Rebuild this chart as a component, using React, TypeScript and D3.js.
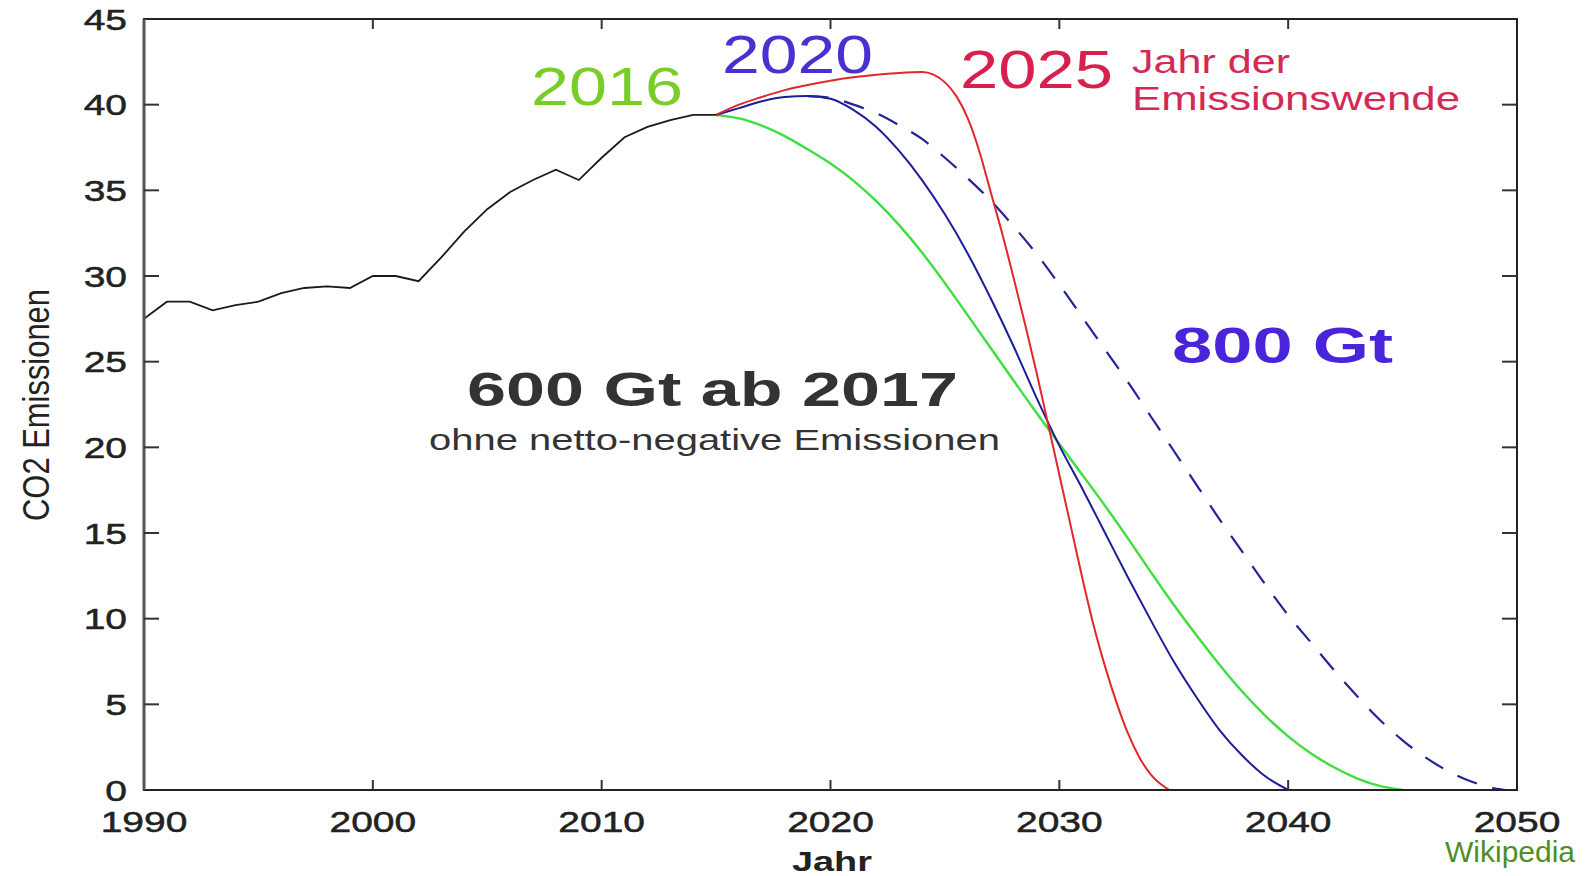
import React from 'react';
import * as d3 from 'd3';

// historical CO2 emissions (Gt/year)
const histYears = d3.range(1990, 2016);
const histValues = [
  27.5, 28.5, 28.5, 28.0, 28.3, 28.5, 29.0, 29.3, 29.4, 29.3,
  30.0, 30.0, 29.7, 31.1, 32.6, 33.9, 34.9, 35.6, 36.2, 35.6,
  36.9, 38.1, 38.7, 39.1, 39.4, 39.4,
];

// scenario: turn in 2016 (green)
const green2016Years = d3.range(2015, 2046);
const green2016Values = [
  39.4, 39.25, 38.8, 38.2, 37.4, 36.6, 35.6, 34.4, 33.0, 31.4,
  29.6, 27.7, 25.8, 23.9, 22.0, 20.2, 18.4, 16.6, 14.7, 12.7,
  10.8, 9.0, 7.3, 5.7, 4.3, 3.1, 2.1, 1.3, 0.65, 0.2, 0,
];

// scenario: turn in 2020 (blue, 600 Gt)
const blue2020Years = d3.range(2015, 2041);
const blue2020Values = [
  39.4, 39.8, 40.2, 40.45, 40.5, 40.35, 39.7, 38.7, 37.3, 35.6,
  33.6, 31.3, 28.7, 25.9, 22.9, 20.1, 17.6, 15.0, 12.4, 9.9,
  7.5, 5.4, 3.5, 2.0, 0.8, 0,
];

// scenario: turn in 2020 with 800 Gt budget (blue dashed)
const blue800Years = [...d3.range(2019, 2050), 2049.5];
const blue800Values = [
  40.5, 40.4, 40.0, 39.5, 38.8, 38.0, 36.9, 35.7, 34.4, 32.9,
  31.3, 29.5, 27.6, 25.7, 23.8, 21.8, 19.8, 17.8, 15.8, 13.9,
  12.0, 10.2, 8.6, 7.0, 5.5, 4.1, 2.9, 1.9, 1.1, 0.5, 0.1, 0,
];

// scenario: turn in 2025 (red)
const red2025Years = [
  2015, 2016, 2017, 2018, 2019, 2020, 2021, 2022, 2023, 2024, 2024.5,
  2025, 2025.5, 2026, 2026.5, 2027, 2027.5, 2028, 2028.5, 2029, 2029.5,
  2030, 2030.5, 2031, 2031.5, 2032, 2032.5, 2033, 2033.5, 2034, 2034.8,
];
const red2025Values = [
  39.4, 40.0, 40.45, 40.85, 41.15, 41.4, 41.6, 41.75, 41.85, 41.9, 41.75,
  41.3, 40.5, 39.2, 37.3, 34.9, 32.5, 29.9, 27.2, 24.4, 21.4,
  18.4, 15.4, 12.4, 9.6, 7.2, 5.1, 3.3, 1.9, 0.9, 0,
];

const xTicks = [1990, 2000, 2010, 2020, 2030, 2040, 2050];
const yTicks = [0, 5, 10, 15, 20, 25, 30, 35, 40, 45];

const W = 1587;
const H = 876;
const FONT = '"Liberation Sans", Arial, Helvetica, sans-serif';
const STRETCH = 1.3;

type LabelProps = {
  x: number;
  y: number;
  text: string;
  size: number;
  fill: string;
  weight?: string | number;
  anchor?: 'start' | 'middle' | 'end';
  length?: number;
  dy?: string;
  halo?: number;
};

// text drawn wider than normal, like the stretched original
const Label: React.FC<LabelProps> = ({ x, y, text, size, fill, weight = 'normal', anchor = 'start', length, dy, halo }) => (
  <text
    transform={length ? `translate(${x},${y})` : `translate(${x},${y}) scale(${STRETCH},1)`}
    fontSize={size}
    fontWeight={weight}
    fill={fill}
    stroke={halo ? fill : undefined}
    strokeWidth={halo}
    textAnchor={anchor}
    fontFamily={FONT}
    dy={dy}
    textLength={length}
    lengthAdjust={length ? 'spacingAndGlyphs' : undefined}
  >
    {text}
  </text>
);

export default function App() {
  const x = d3.scaleLinear().domain([1990, 2050]).range([144, 1517]);
  const y = d3.scaleLinear().domain([0, 45]).range([790, 19]);

  const path = (years: number[], values: number[], curve: d3.CurveFactory) =>
    d3.line<number>()
      .x((_, i) => x(years[i]))
      .y(d => y(d))
      .curve(curve)(values) || '';

  const [x0, x1] = x.range();
  const [y0, y1] = y.range();

  return (
    <svg
      width={W}
      height={H}
      style={{ position: 'absolute', left: 0, top: 0, background: '#fff' }}
    >
      <rect x={0} y={0} width={W} height={H} fill="#fff" />

      {/* scenario curves */}
      <path d={path(blue800Years, blue800Values, d3.curveMonotoneX)} fill="none" stroke="#24249a" strokeWidth={2.2} strokeDasharray="21,16" />
      <path d={path(green2016Years, green2016Values, d3.curveBasis)} fill="none" stroke="#3ede3e" strokeWidth={2.4} />
      <path d={path(blue2020Years, blue2020Values, d3.curveMonotoneX)} fill="none" stroke="#1c1c9c" strokeWidth={2} />
      <path d={path(red2025Years, red2025Values, d3.curveMonotoneX)} fill="none" stroke="#e3262a" strokeWidth={2} />
      <path d={path(histYears, histValues, d3.curveLinear)} fill="none" stroke="#1a1a1a" strokeWidth={1.8} />

      {/* frame */}
      <rect x={x0} y={y1} width={x1 - x0} height={y0 - y1} fill="none" stroke="#222" strokeWidth={2} />
      <line x1={x0} x2={x0} y1={y1} y2={y0} stroke="#555" strokeWidth={3} />

      {/* y ticks, left and right */}
      {yTicks.map(t => (
        <g key={`y${t}`}>
          {t > 0 && t < 45 && (
            <>
              <line x1={x0} x2={x0 + 15} y1={y(t)} y2={y(t)} stroke="#333" strokeWidth={2} />
              <line x1={x1} x2={x1 - 15} y1={y(t)} y2={y(t)} stroke="#333" strokeWidth={2} />
            </>
          )}
          <Label x={127} y={y(t)} text={String(t)} size={30} fill="#222" anchor="end" dy="0.36em" halo={0.5} />
        </g>
      ))}

      {/* x ticks, bottom and top */}
      {xTicks.map(t => (
        <g key={`x${t}`}>
          {t > 1990 && t < 2050 && (
            <>
              <line x1={x(t)} x2={x(t)} y1={y0} y2={y0 - 10} stroke="#333" strokeWidth={2} />
              <line x1={x(t)} x2={x(t)} y1={y1} y2={y1 + 10} stroke="#333" strokeWidth={2} />
            </>
          )}
          <Label x={x(t)} y={832} text={String(t)} size={30} fill="#222" anchor="middle" halo={0.5} />
        </g>
      ))}

      {/* axis titles */}
      <text
        transform={`translate(36,405) scale(${STRETCH},1) rotate(-90)`}
        fontSize={28}
        fill="#222"
        textAnchor="middle"
        dy="0.36em"
        fontFamily={FONT}
        textLength={232}
        lengthAdjust="spacingAndGlyphs"
      >
        CO2 Emissionen
      </text>
      <Label x={832} y={871} text="Jahr" size={27} weight="bold" fill="#222" anchor="middle" length={80} />

      {/* annotations */}
      <Label x={531} y={105} text="2016" size={54} fill="#7acc28" length={152} />
      <Label x={722} y={73} text="2020" size={54} fill="#4a30d0" length={151} />
      <Label x={960} y={88} text="2025" size={53} fill="#d8204e" length={153} />
      <Label x={1132} y={73} text="Jahr der" size={33} fill="#d22a55" length={158} />
      <Label x={1132} y={110} text="Emissionswende" size={33} fill="#d22a55" length={328} />
      <Label x={1172} y={363} text="800 Gt" size={50} weight="bold" fill="#4a24d8" length={221} />
      <Label x={467} y={406} text="600 Gt ab 2017" size={48} weight="bold" fill="#333" length={491} />
      <Label x={429} y={450} text="ohne netto-negative Emissionen" size={30} fill="#333" length={571} />

      <text x={1445} y={862} fontSize={30} fill="#4f8f1f" fontFamily={FONT}>Wikipedia</text>
    </svg>
  );
}
